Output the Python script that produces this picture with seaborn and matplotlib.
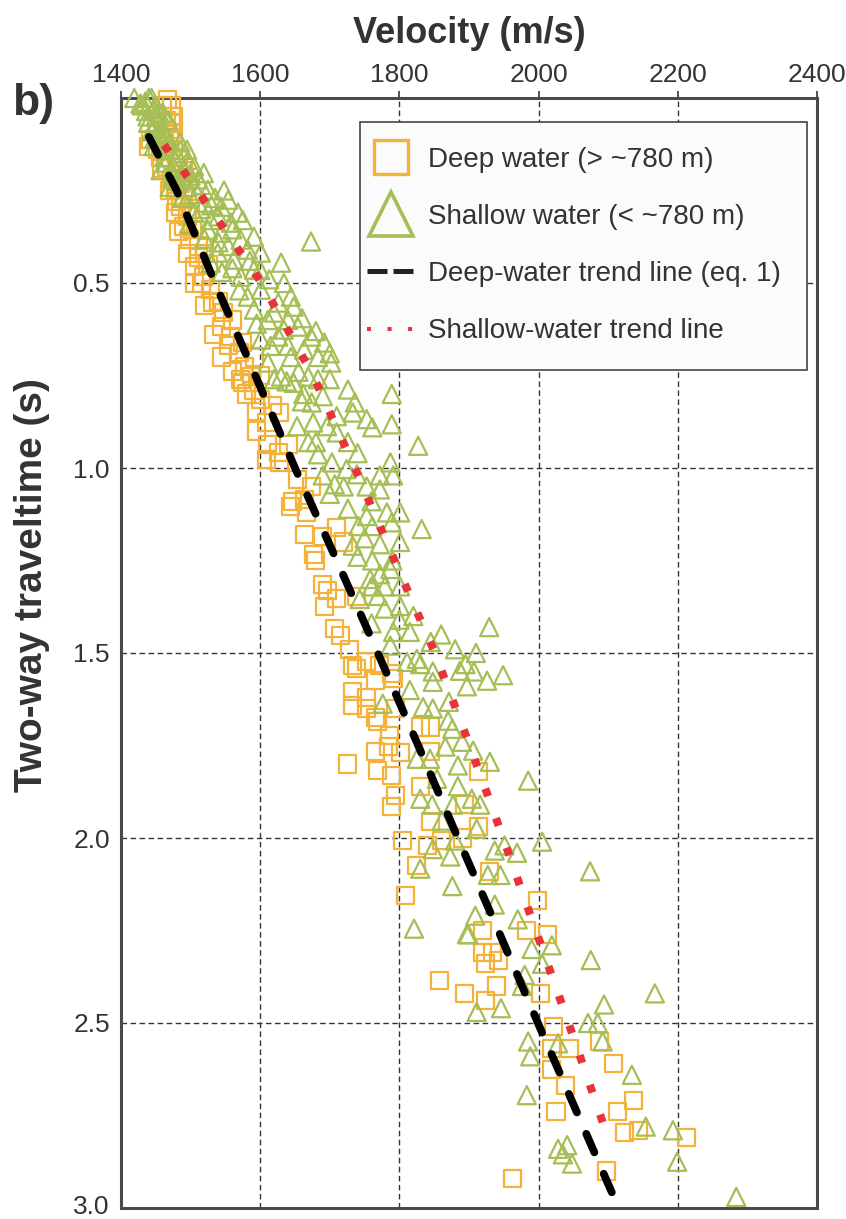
import matplotlib
matplotlib.use("Agg")
import matplotlib.pyplot as plt
from matplotlib.lines import Line2D
from matplotlib.patches import Rectangle
from matplotlib.transforms import ScaledTranslation
import seaborn as sns
import pandas as pd

# ---------------------------------------------------------------------------
# Interval velocity vs two-way traveltime picks
# ---------------------------------------------------------------------------
deep_velocity = [
    1467, 1472, 1475, 1472, 1476, 1443, 1439, 1476, 1482, 1457, 1465, 1490,
    1472, 1479, 1490, 1486, 1496, 1490, 1503, 1498, 1512, 1511, 1505, 1519,
    1515, 1529, 1532, 1547, 1544, 1558, 1554, 1570, 1577, 1587, 1572,
    1525, 1540, 1560, 1575, 1592, 1600, 1520, 1480, 1500, 1462, 1485, 1453,
    1460, 1465, 1470, 1458, 1470, 1478, 1483, 1495, 1505, 1520, 1533, 1545,
    1560, 1590,
    1575, 1581, 1600, 1595, 1618, 1628, 1609, 1595, 1611, 1609, 1626, 1640,
    1628, 1653, 1674, 1647, 1643, 1664, 1667, 1710, 1664, 1689, 1719, 1676,
    1679, 1690, 1696, 1693, 1710, 1739, 1707, 1715, 1729, 1733, 1753, 1772,
    1739, 1766, 1733, 1733, 1753, 1753, 1766, 1769, 1788, 1792, 1795, 1786,
    1785, 1765, 1801, 1725, 1769, 1789, 1830, 1844, 1844, 1830, 1795, 1789,
    1844, 1894, 1913, 1804, 1840, 1861, 1890, 1825, 1913, 1929, 1809, 1998,
    1920, 1983, 2013, 1919, 1934, 1943, 1924, 1858, 1893, 1939, 1924, 2003,
    2022, 2019, 2044, 2088, 2107, 2018, 2038, 2137, 2113, 2025, 2123, 2143,
    2212, 2098, 1963,
]
deep_twt = [
    0.005, 0.02, 0.05, 0.07, 0.094, 0.113, 0.13, 0.13, 0.16, 0.16, 0.186, 0.195,
    0.22, 0.248, 0.266, 0.294, 0.32, 0.348, 0.356, 0.383, 0.40, 0.43, 0.456, 0.483,
    0.50, 0.518, 0.553, 0.58, 0.618, 0.645, 0.67, 0.688, 0.726, 0.753, 0.76,
    0.45, 0.55, 0.60, 0.66, 0.70, 0.75, 0.42, 0.28, 0.30, 0.10, 0.23, 0.14,
    0.02, 0.06, 0.11, 0.19, 0.25, 0.31, 0.36, 0.42, 0.50, 0.56, 0.64, 0.70,
    0.74, 0.79,
    0.77, 0.80, 0.815, 0.847, 0.83, 0.85, 0.877, 0.90, 0.936, 0.976, 0.958, 0.936,
    0.985, 1.03, 1.05, 1.09, 1.105, 1.085, 1.12, 1.16, 1.18, 1.185, 1.20, 1.233,
    1.25, 1.314, 1.33, 1.373, 1.354, 1.346, 1.435, 1.454, 1.49, 1.535, 1.524, 1.535,
    1.543, 1.573, 1.605, 1.643, 1.62, 1.65, 1.675, 1.686, 1.556, 1.57, 1.65, 1.724,
    1.753, 1.767, 1.77, 1.80, 1.818, 1.83, 1.70, 1.70, 1.767, 1.86, 1.886, 1.915,
    1.956, 1.91, 1.97, 2.007, 2.02, 2.007, 2.00, 2.075, 1.82, 2.09, 2.155, 2.17,
    2.25, 2.25, 2.26, 2.31, 2.31, 2.33, 2.34, 2.385, 2.42, 2.40, 2.44, 2.42,
    2.51, 2.57, 2.57, 2.55, 2.61, 2.625, 2.67, 2.71, 2.74, 2.74, 2.795, 2.79,
    2.81, 2.90, 2.92,
]

shallow_velocity = [
    1419, 1440, 1447, 1439, 1453, 1447, 1462, 1476, 1457, 1496, 1519, 1511,
    1496, 1486, 1525, 1554, 1544, 1568, 1519, 1505, 1529, 1558, 1591, 1673,
    1544, 1572, 1525, 1601, 1582, 1554, 1539, 1630, 1562, 1529, 1591, 1572,
    1613, 1634, 1601, 1644, 1582, 1626, 1648, 1591, 1611, 1673, 1692, 1634,
    1654, 1626, 1601, 1702, 1663, 1683, 1644, 1611, 1630, 1669, 1648, 1683,
    1430, 1450, 1460, 1465, 1470, 1480, 1490, 1500, 1475, 1510, 1535, 1540,
    1470, 1455, 1445, 1435, 1458, 1468, 1485, 1495,
    1428, 1436, 1444, 1450, 1438, 1452, 1444, 1458, 1460, 1448,
    1470, 1478, 1486, 1465, 1492, 1505, 1480, 1515, 1498, 1488,
    1530, 1548, 1515, 1560, 1575, 1498, 1520, 1540, 1585, 1560, 1545, 1600,
    1570, 1620, 1640, 1660, 1615, 1595, 1640, 1680, 1700, 1655, 1620, 1700,
    1660, 1710, 1680, 1740, 1700, 1720, 1760, 1740, 1790, 1760, 1800, 1760,
    1820, 1845,
    1638, 1662, 1674, 1690, 1726, 1736, 1733, 1753, 1761, 1789, 1789, 1827,
    1653, 1676, 1696, 1710, 1669, 1726, 1683, 1703, 1724, 1690, 1707, 1739,
    1772, 1787, 1791, 1753, 1772, 1726, 1753, 1782, 1801, 1741, 1761, 1789,
    1832, 1750, 1733, 1772, 1801, 1761, 1772, 1787, 1758, 1779, 1801, 1743,
    1769, 1779, 1801, 1791, 1815, 1787, 1825, 1811, 1848,
    1929, 1860, 1880, 1910, 1895,
    1830, 1887, 1907, 1926, 1949, 1848, 1897, 1815, 1776, 1834, 1871, 1848,
    1870, 1876, 1890, 1866, 1906, 1825, 1844, 1884, 1930, 1854, 1985, 1884,
    1830, 1904, 1847, 1877, 1916, 1861, 1911, 1848, 1873, 1880, 1937, 1951,
    1969, 2005, 1830, 1876, 1945, 1927, 1937, 1909, 1970, 1821, 1899, 2074,
    1897, 1990, 2019, 2005, 2075, 1980, 1976, 1946, 1911, 2167, 2094,
    2071, 2085, 2092, 2028, 1985, 1988, 2134, 1983, 2154, 2193, 2028, 2041,
    2035, 2048, 2199, 2284,
]
shallow_twt = [
    0.0, 0.0, 0.03, 0.067, 0.094, 0.13, 0.16, 0.186, 0.195, 0.167, 0.203, 0.22,
    0.24, 0.213, 0.248, 0.275, 0.294, 0.31, 0.283, 0.31, 0.33, 0.337, 0.375, 0.388,
    0.364, 0.383, 0.356, 0.418, 0.41, 0.40, 0.418, 0.445, 0.437, 0.445, 0.464, 0.483,
    0.49, 0.50, 0.518, 0.537, 0.537, 0.553, 0.564, 0.572, 0.60, 0.645, 0.661, 0.626,
    0.618, 0.645, 0.653, 0.715, 0.68, 0.70, 0.70, 0.715, 0.753, 0.753, 0.77, 0.76,
    0.02, 0.05, 0.08, 0.11, 0.14, 0.15, 0.19, 0.21, 0.21, 0.26, 0.27, 0.32,
    0.24, 0.04, 0.085, 0.01, 0.12, 0.06, 0.12, 0.14,
    0.015, 0.035, 0.0, 0.02, 0.05, 0.065, 0.09, 0.10, 0.04, 0.11,
    0.12, 0.17, 0.14, 0.175, 0.20, 0.185, 0.225, 0.235, 0.26, 0.27,
    0.29, 0.25, 0.30, 0.355, 0.33, 0.34, 0.38, 0.39, 0.44, 0.46, 0.47, 0.465,
    0.52, 0.58, 0.60, 0.595, 0.67, 0.61, 0.67, 0.63, 0.69, 0.74, 0.76, 0.76,
    0.82, 0.86, 0.93, 0.96, 1.07, 1.05, 1.09, 1.24, 1.25, 1.32, 1.41, 1.42,
    1.40, 1.47,
    0.766, 0.80, 0.823, 0.806, 0.788, 0.823, 0.85, 0.868, 0.89, 0.80, 0.882, 0.94,
    0.887, 0.877, 0.887, 0.904, 0.93, 0.93, 0.963, 0.985, 1.003, 1.02, 1.044, 1.017,
    1.02, 0.985, 1.02, 1.05, 1.058, 1.11, 1.13, 1.12, 1.12, 1.157, 1.157, 1.147,
    1.165, 1.19, 1.21, 1.206, 1.20, 1.25, 1.287, 1.273, 1.30, 1.32, 1.32, 1.354,
    1.346, 1.38, 1.373, 1.443, 1.443, 1.48, 1.516, 1.524, 1.55,
    1.43, 1.45, 1.49, 1.50, 1.53,
    1.53, 1.548, 1.55, 1.575, 1.56, 1.578, 1.59, 1.60, 1.637, 1.646, 1.632, 1.65,
    1.683, 1.705, 1.74, 1.753, 1.764, 1.786, 1.786, 1.804, 1.794, 1.84, 1.845, 1.86,
    1.894, 1.894, 1.91, 1.91, 1.91, 1.953, 1.975, 2.03, 2.05, 2.007, 2.034, 2.02,
    2.04, 2.01, 2.083, 2.13, 2.10, 2.10, 2.18, 2.21, 2.22, 2.245, 2.26, 2.09,
    2.26, 2.30, 2.29, 2.34, 2.33, 2.37, 2.40, 2.46, 2.47, 2.42, 2.45,
    2.50, 2.50, 2.55, 2.555, 2.55, 2.59, 2.64, 2.695, 2.78, 2.79, 2.84, 2.83,
    2.855, 2.88, 2.875, 2.97,
]

# Trend lines (velocity as a function of two-way time)
deep_trend_twt = [0.105, 0.25, 0.5, 0.75, 1.0, 1.25, 1.5, 1.75, 2.0, 2.25, 2.5, 2.75, 3.0]
deep_trend_velocity = [1440, 1480, 1535, 1593, 1650, 1710, 1769, 1827, 1884, 1942, 1999, 2057, 2115]
shallow_trend_twt = [0.127, 0.25, 0.5, 0.75, 1.0, 1.25, 1.5, 1.75, 2.0, 2.25, 2.5, 2.773]
shallow_trend_velocity = [1462, 1510, 1602, 1676, 1736, 1793, 1851, 1901, 1949, 1996, 2043, 2093]

x_ticks = [1400, 1600, 1800, 2000, 2200, 2400]
y_ticks = [0.5, 1.0, 1.5, 2.0, 2.5, 3.0]
legend_labels = ["Deep water (> ~780 m)", "Shallow water (< ~780 m)",
                 "Deep-water trend line (eq. 1)", "Shallow-water trend line"]

DEEP_COLOR = "#F4B23A"
SHALLOW_COLOR = "#A5BE55"
RED = "#E8333B"
INK = "#333333"

sns.set_theme(style="white")
plt.rcParams["font.family"] = ["Liberation Sans", "DejaVu Sans"]

W, H = 846, 1219
fig = plt.figure(figsize=(W / 100, H / 100), dpi=100)
ax = fig.add_axes([121 / W, 1 - 1208 / H, 696 / W, 1110 / H])

deep_df = pd.DataFrame({"velocity": deep_velocity, "twt": deep_twt})
shallow_df = pd.DataFrame({"velocity": shallow_velocity, "twt": shallow_twt})

sns.scatterplot(data=deep_df, x="velocity", y="twt", ax=ax, marker="s", s=150,
                color=DEEP_COLOR, edgecolor=DEEP_COLOR, facecolor="none",
                linewidth=1.6, clip_on=False, zorder=3, legend=False)
sns.scatterplot(data=shallow_df, x="velocity", y="twt", ax=ax, marker="^", s=170,
                color=SHALLOW_COLOR, edgecolor=SHALLOW_COLOR, facecolor="none",
                linewidth=1.6, clip_on=False, zorder=3, legend=False)

sns.lineplot(x=deep_trend_velocity, y=deep_trend_twt, ax=ax, sort=False,
             estimator=None, color="black", linewidth=5.6,
             linestyle=(0, (2.6, 3.0)), dash_capstyle="round", zorder=5,
             legend=False)
sns.lineplot(x=shallow_trend_velocity, y=shallow_trend_twt, ax=ax, sort=False,
             estimator=None, color=RED, linewidth=5.8,
             linestyle=(0, (1.0, 2.9)), dash_capstyle="butt", zorder=5,
             legend=False)

ax.set_xlim(1400, 2400)
ax.set_ylim(3.0, 0.0)
ax.set_xticks(x_ticks)
ax.set_yticks(y_ticks)
ax.set_yticklabels([f"{v:.1f}" for v in y_ticks])
ax.xaxis.tick_top()
ax.xaxis.set_label_position("top")

ax.grid(True, color=INK, linestyle=(0, (4, 2.5)), linewidth=1.0, zorder=0)
ax.set_axisbelow(True)
for sp in ax.spines.values():
    sp.set_color("#4a4a4a")
    sp.set_linewidth(2.2)
ax.tick_params(axis="both", direction="out", length=5, width=1.2, color=INK,
               labelsize=19, labelcolor=INK, pad=3)

# keep the bottom tick label inside the canvas
last_label = ax.yaxis.get_major_ticks()[-1].label1
last_label.set_transform(last_label.get_transform()
                         + ScaledTranslation(0, 3 / 100, fig.dpi_scale_trans))

ax.set_xlabel("Velocity (m/s)", fontsize=26, fontweight="bold", color=INK, labelpad=14)
ax.set_ylabel("Two-way traveltime (s)", fontsize=28, fontweight="bold", color=INK)
ax.yaxis.set_label_coords((50 - 121) / 696, (1208 - 585) / 1110)

fig.text(12 / W, 1 - 104 / H, "b)", fontsize=32, fontweight="bold", color=INK,
         ha="left", va="center")

# Legend: frame drawn as its own box, entries placed inside it
ax.add_patch(Rectangle(((360 - 121) / 696, (1208 - 370) / 1110), 447 / 696, 248 / 1110,
                       transform=ax.transAxes, facecolor="#FBFBFB", edgecolor="#444444",
                       linewidth=1.2, zorder=9, clip_on=False))
handles = [
    Line2D([], [], linestyle="none", marker="s", markersize=25, markerfacecolor="none",
           markeredgecolor=DEEP_COLOR, markeredgewidth=2.4),
    Line2D([], [], linestyle="none", marker="^", markersize=31, markerfacecolor="none",
           markeredgecolor=SHALLOW_COLOR, markeredgewidth=2.6),
    Line2D([], [], color="#222222", linewidth=3.6, linestyle=(0, (4.0, 1.2))),
    Line2D([], [], color=RED, linewidth=2.9, linestyle=(0, (1.0, 4.1))),
]
leg = ax.legend(handles, legend_labels, loc="upper left",
                bbox_to_anchor=((367 - 121) / 696, (1208 - 147) / 1110), fontsize=20,
                frameon=False, handlelength=1.7, handletextpad=0.5,
                labelspacing=1.12, borderpad=0, borderaxespad=0)
for t in leg.get_texts():
    t.set_color(INK)
leg.set_zorder(10)

fig.savefig("out.png", dpi=100)
